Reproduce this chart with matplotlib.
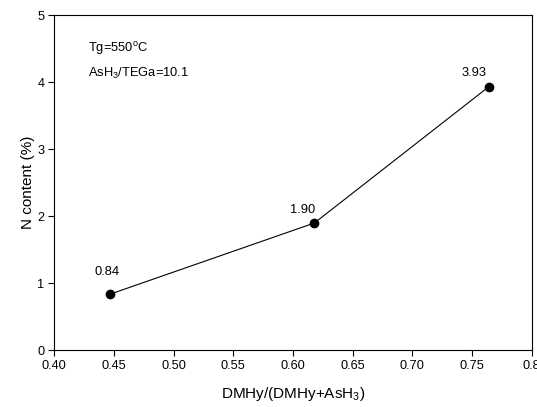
import matplotlib
matplotlib.use("Agg")
import matplotlib.pyplot as plt

plt.rcParams['font.family'] = ['Liberation Sans', 'DejaVu Sans']
plt.rcParams['mathtext.fontset'] = 'custom'
plt.rcParams['mathtext.rm'] = 'Liberation Sans'
plt.rcParams['mathtext.it'] = 'Liberation Sans:italic'

# data
ratio = [0.447, 0.618, 0.764]
n_content = [0.84, 1.90, 3.93]
point_labels = ["0.84", "1.90", "3.93"]
label_offsets = [(-3, 22), (-12, 13), (-15, 14)]  # pixels
xticks = [0.40, 0.45, 0.50, 0.55, 0.60, 0.65, 0.70, 0.75, 0.80]
xticklabels = ["0.40", "0.45", "0.50", "0.55", "0.60", "0.65", "0.70", "0.75", "0.8"]
yticks = [0, 1, 2, 3, 4, 5]

fig = plt.figure(figsize=(5.37, 4.07), dpi=100)
ax = fig.add_axes([0.101, 0.139, 0.889, 0.824])

ax.plot(ratio, n_content, color='black', lw=0.8, marker='o', markersize=6)

for x, y, s, (dx, dy) in zip(ratio, n_content, point_labels, label_offsets):
    ax.annotate(s, xy=(x, y), xytext=(dx, dy), textcoords='offset pixels',
                ha='center', va='center', fontsize=9.3)

ax.text(0.07, 0.9, 'Tg=550$^{\\mathrm{o}}$C', transform=ax.transAxes,
        fontsize=9.3, va='center', ha='left')
ax.text(0.07, 0.825, 'AsH$_3$/TEGa=10.1', transform=ax.transAxes,
        fontsize=9.3, va='center', ha='left')

ax.set_xlim(0.40, 0.80)
ax.set_ylim(0, 5)
ax.set_xticks(xticks)
ax.set_xticklabels(xticklabels)
ax.set_yticks(yticks)
ax.tick_params(direction='out', length=4, width=0.8, labelsize=9.2, pad=3,
               top=False, right=False)
for sp in ax.spines.values():
    sp.set_linewidth(0.8)

ax.set_xlabel('DMHy/(DMHy+AsH$_3$)', fontsize=11, labelpad=9)
ax.set_ylabel('N content (%)', fontsize=11, labelpad=2)

fig.savefig('out.png', dpi=100)
